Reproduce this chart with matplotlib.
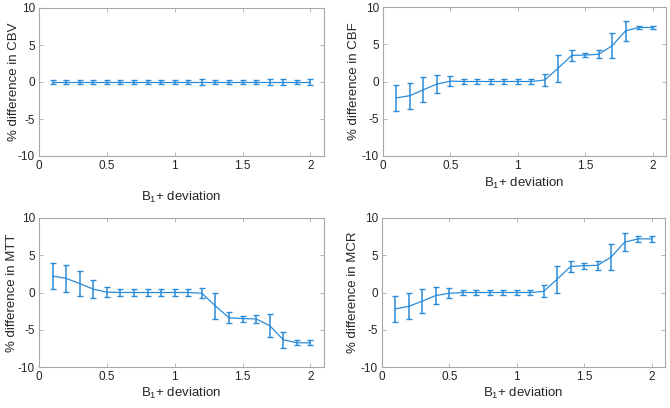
import matplotlib
matplotlib.use("Agg")
import matplotlib.pyplot as plt

plt.rcParams['font.family'] = ['Liberation Sans', 'DejaVu Sans']
plt.rcParams['mathtext.fontset'] = 'custom'
plt.rcParams['mathtext.rm'] = 'Liberation Sans'
plt.rcParams['mathtext.it'] = 'Liberation Sans'
plt.rcParams['axes.unicode_minus'] = False

deviation = [0.1, 0.2, 0.3, 0.4, 0.5, 0.6, 0.7, 0.8, 0.9, 1.0,
             1.1, 1.2, 1.3, 1.4, 1.5, 1.6, 1.7, 1.8, 1.9, 2.0]

cbv_mean = [0.0] * 20
cbv_err = [0.3, 0.3, 0.3, 0.3, 0.3, 0.3, 0.3, 0.3, 0.3, 0.3,
           0.3, 0.35, 0.3, 0.3, 0.3, 0.3, 0.35, 0.35, 0.3, 0.35]

cbf_mean = [-2.2, -1.9, -1.1, -0.35, 0.05, 0.0, 0.0, 0.0, 0.0, 0.0,
            0.0, 0.2, 1.8, 3.5, 3.55, 3.65, 4.8, 6.8, 7.25, 7.25]
cbf_err = [1.7, 1.75, 1.7, 1.2, 0.65, 0.3, 0.3, 0.3, 0.3, 0.3,
           0.3, 0.8, 1.8, 0.7, 0.3, 0.55, 1.65, 1.3, 0.25, 0.25]

mtt_mean = [2.2, 1.9, 1.2, 0.45, 0.05, 0.0, 0.0, 0.0, 0.0, 0.0,
            0.0, -0.1, -1.8, -3.4, -3.5, -3.55, -4.45, -6.35, -6.75, -6.75]
mtt_err = [1.75, 1.85, 1.7, 1.2, 0.7, 0.45, 0.45, 0.45, 0.45, 0.45,
           0.45, 0.7, 1.75, 0.75, 0.4, 0.55, 1.5, 1.1, 0.35, 0.35]

mcr_mean = [-2.2, -1.85, -1.15, -0.4, -0.1, 0.0, 0.0, 0.0, 0.0, 0.0,
            0.0, 0.15, 1.8, 3.5, 3.6, 3.65, 4.75, 6.75, 7.2, 7.2]
mcr_err = [1.7, 1.75, 1.6, 1.2, 0.65, 0.4, 0.4, 0.4, 0.4, 0.4,
           0.4, 0.8, 1.8, 0.75, 0.4, 0.6, 1.7, 1.2, 0.4, 0.4]

blue = "#2a8bd8"
gray = "#a8a8a8"
txt = "#262626"

W, H = 670, 408
fig = plt.figure(figsize=(6.7, 4.08), dpi=100)


def make_axes(left, right, top, bottom):
    return fig.add_axes([left / W, (H - bottom) / H, (right - left) / W, (bottom - top) / H])


panels = [
    # box in pixels, mean, err, name, xlabel y, ylabel x (axes coords)
    ((39, 324, 8, 156), cbv_mean, cbv_err, "CBV", -0.23, -0.065),
    ((383, 666, 7, 156), cbf_mean, cbf_err, "CBF", -0.135, -0.08),
    ((39, 324, 218, 367), mtt_mean, mtt_err, "MTT", -0.128, -0.075),
    ((382, 665, 218, 367), mcr_mean, mcr_err, "MCR", -0.128, -0.08),
]

for box, mean, err, name, xl_y, yl_x in panels:
    ax = make_axes(*box)
    ax.errorbar(deviation, mean, yerr=err, color=blue, linewidth=0.9,
                elinewidth=1.1, capsize=2.2, capthick=1.0)
    ax.set_xlim(0, 2.1)
    ax.set_ylim(-10, 10)
    ax.set_xticks([0, 0.5, 1, 1.5, 2])
    ax.set_xticklabels(["0", "0.5", "1", "1.5", "2"])
    ax.set_yticks([-10, -5, 0, 5, 10])
    ax.tick_params(direction="in", length=3, width=0.6, color=gray,
                   labelsize=8.5, labelcolor=txt, top=True, right=True, pad=3)
    for s in ax.spines.values():
        s.set_color(gray)
        s.set_linewidth(0.8)
    ax.set_xlabel(r"B$_1$+ deviation", fontsize=9.5, color=txt)
    ax.set_ylabel("% difference in " + name, fontsize=9.5, color=txt)
    ax.xaxis.set_label_coords(0.5, xl_y)
    ax.yaxis.set_label_coords(yl_x, 0.5)

fig.savefig("out.png", dpi=100)
